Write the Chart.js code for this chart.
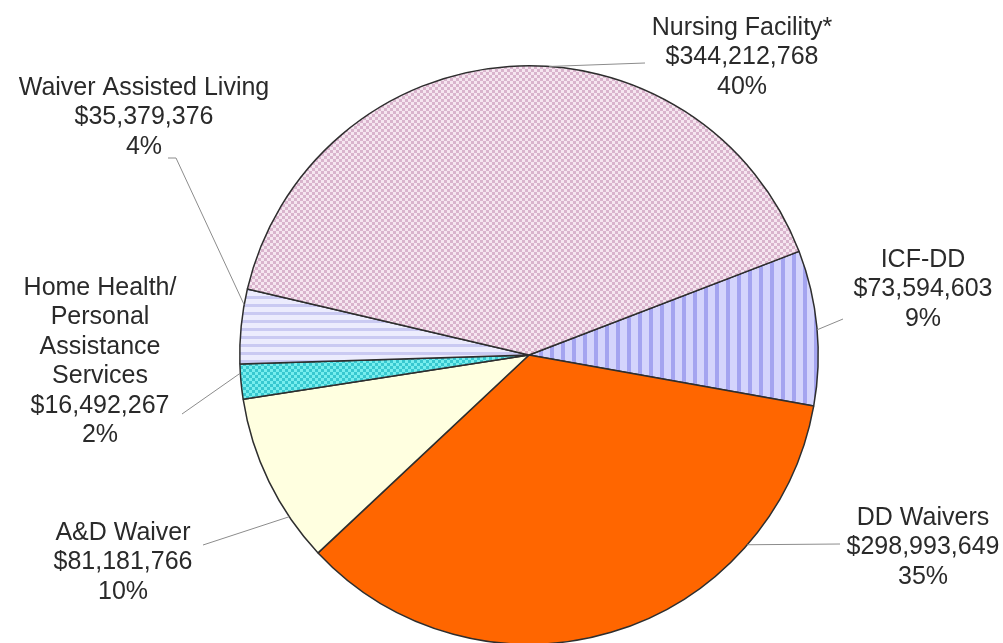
<!DOCTYPE html>
<html>
<head>
<meta charset="utf-8">
<script src="https://cdn.jsdelivr.net/npm/chart.js@4/dist/chart.umd.min.js"></script>
<style>
  html, body { margin: 0; padding: 0; background: #fff; overflow: hidden; }
  #wrap { position: absolute; left: 0; top: 0; width: 1003px; height: 645px; }
</style>
</head>
<body>
<div id="wrap"><canvas id="myChart"></canvas></div>
<script>
// slices, clockwise from the right side
var categories = ["ICF-DD", "DD Waivers", "A&D Waiver", "Home Health/\nPersonal\nAssistance\nServices", "Waiver Assisted Living", "Nursing Facility*"];
var amounts = [73594603, 298993649, 81181766, 16492267, 35379376, 344212768];
var percentLabels = ["9%", "35%", "10%", "2%", "4%", "40%"];

// label placement (text centre x, first line y) and leader line: arc angle (deg) -> end points
var labelLayout = [
  { x: 923, y: 260, angle: -5, leader: [[843, 319]] },
  { x: 923, y: 518, angle: 41, leader: [[840, 544]] },
  { x: 123, y: 533, angle: 146, leader: [[203, 545]] },
  { x: 100, y: 288, angle: 176.4, leader: [[182, 414]] },
  { x: 144, y: 88, angle: 190, leader: [[176, 158], [168, 158]] },
  { x: 742, y: 28, angle: -86, leader: [[645, 63]] }
];

function makePattern(w, h, draw) {
  var c = document.createElement("canvas");
  c.width = w; c.height = h;
  var g = c.getContext("2d");
  draw(g);
  return g.createPattern(c, "repeat");
}

function checker(size, light, dark) {
  return makePattern(size * 2, size * 2, function (g) {
    g.fillStyle = light; g.fillRect(0, 0, size * 2, size * 2);
    g.fillStyle = dark;
    g.fillRect(0, 0, size, size);
    g.fillRect(size, size, size, size);
  });
}

var fills = [
  makePattern(11, 10, function (g) {           // vertical stripes
    g.fillStyle = "#D4D4FC"; g.fillRect(0, 0, 11, 10);
    g.fillStyle = "#A4A4F0"; g.fillRect(0, 0, 4, 10);
  }),
  "#FF6600",
  "#FFFFE0",
  checker(3, "#78EEEE", "#38C8D0"),
  makePattern(8, 8, function (g) {             // horizontal stripes
    g.fillStyle = "#ECECFD"; g.fillRect(0, 0, 8, 8);
    g.fillStyle = "#CACAF2"; g.fillRect(0, 0, 8, 3);
  }),
  checker(3, "#F6E6F0", "#D9B4CD")
];

function money(v) {
  return "$" + v.toLocaleString("en-US");
}

var sliceLabels = {
  id: "sliceLabels",
  afterDatasetsDraw: function (chart) {
    var ctx = chart.ctx;
    var arcs = chart.getDatasetMeta(0).data;
    ctx.save();
    arcs.forEach(function (arc, i) {
      var p = arc.getProps(["x", "y", "outerRadius"], true);
      var L = labelLayout[i];
      var a = L.angle * Math.PI / 180;
      ctx.beginPath();
      ctx.moveTo(p.x + p.outerRadius * Math.cos(a), p.y + p.outerRadius * Math.sin(a));
      L.leader.forEach(function (pt) { ctx.lineTo(pt[0], pt[1]); });
      ctx.strokeStyle = "#8c8c8c";
      ctx.lineWidth = 1;
      ctx.stroke();

      var lines = categories[i].split("\n").concat([money(amounts[i]), percentLabels[i]]);
      ctx.fillStyle = "#2a2a2a";
      ctx.font = "25px 'Liberation Sans', Arial, sans-serif";
      ctx.textAlign = "center";
      ctx.textBaseline = "middle";
      lines.forEach(function (t, k) {
        ctx.fillText(t, L.x, L.y + k * 29.5);
      });
    });
    ctx.restore();
  }
};

var chart = new Chart(document.getElementById("myChart").getContext("2d"), {
  type: "pie",
  data: {
    labels: categories,
    datasets: [{
      data: amounts,
      backgroundColor: fills,
      borderColor: "#2e2e2e",
      borderWidth: 1.5
    }]
  },
  options: {
    responsive: true,
    maintainAspectRatio: false,
    animation: false,
    rotation: 69,
    layout: { padding: { top: 65, left: 55, right: 0, bottom: 0 } },
    plugins: {
      legend: { display: false },
      tooltip: { enabled: false }
    }
  },
  plugins: [sliceLabels]
});
</script>
</body>
</html>
